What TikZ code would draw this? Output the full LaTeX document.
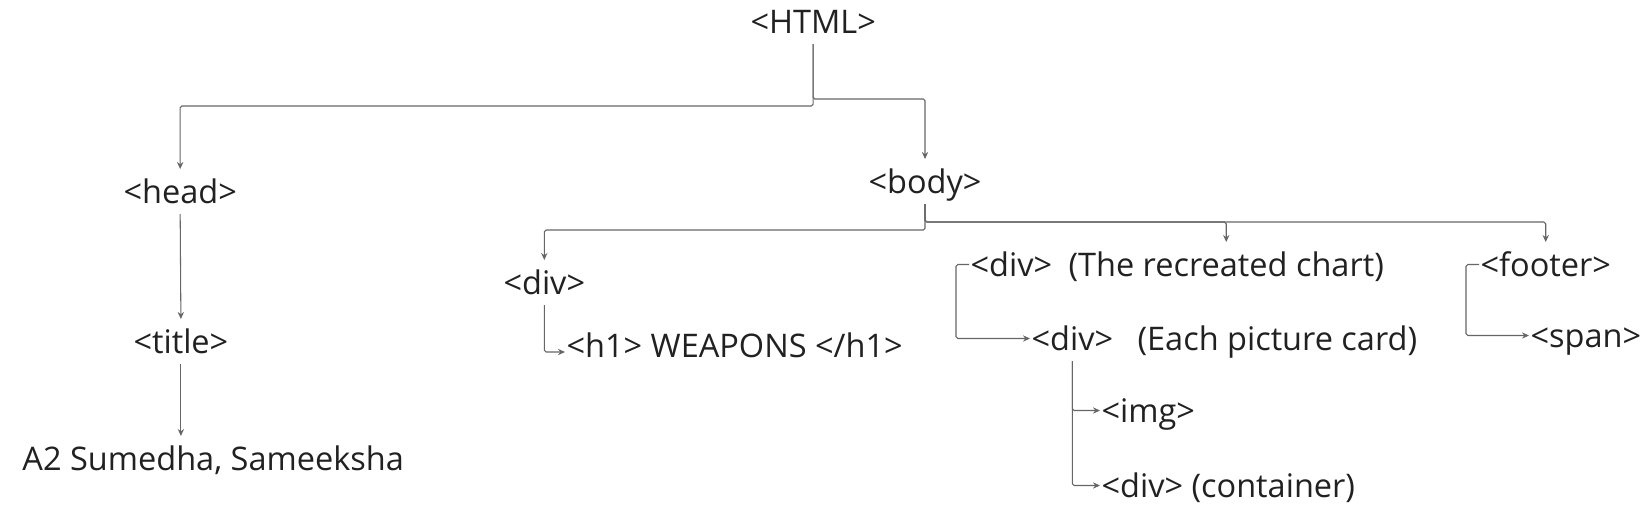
\documentclass[tikz,border=0pt]{standalone}
\usepackage{fontspec}
\setmainfont{Open Sans}
\usepackage{tikz}
\usepackage{xcolor}
\usetikzlibrary{arrows.meta}

\begin{document}
\begin{tikzpicture}[x=0.02cm,y=-0.02cm]
  \tikzset{vertex/.style = {anchor=base west,inner sep=0pt,text height=0.46cm,text depth=0pt,outer xsep=0.03cm,outer ysep=0.22cm,text=black!87,font=\fontsize{18.5}{22}\selectfont}}
  \tikzset{edge/.style = {-{Stealth[length=4pt,width=3.6pt]},draw=black!60,line width=0.6pt,rounded corners=1pt}}

	\useasboundingbox (0,0) rectangle (1648,521);

	\node[vertex] (0) at (749,33) {<HTML>};

	\node[vertex] (1) at (122,203) {<head>};

		\node[vertex] (2) at (132,353) {<title>};

			\node[vertex] (3) at (21,470) {A2 Sumedha, Sameeksha};

	\node[vertex] (4) at (867,193) {<body>};

		\node[vertex] (5) at (502,294) {<div>};

			\node[vertex] (6) at (565,357) {<h1> WEAPONS </h1>};

		\node[vertex] (7) at (969,276) {<div>};
		\node[vertex] (8) at (1067,276) {(The recreated chart)};

			\node[vertex] (9) at (1030,350) {<div>};
			\node[vertex] (10) at (1136,350) {(Each picture card)};

				\node[vertex] (11) at (1100,422) {<img>};

				\node[vertex] (12) at (1100,497) {<div> (container)};

		\node[vertex] (13) at (1479,276) {<footer>};

			\node[vertex] (14) at (1529,347) {<span>};

	\draw[edge] (0.south) -- ++(0,62) -| (1.north);
	\draw[edge] (0.south) -- ++(0,55) -| (4.north);
	\draw[edge] (1.south) -- (2.north);
	\draw[edge] (2.south) -- (2.south |- 3.north);

	\draw[edge] (4.south) -- ++(0,26) -| (5.north);
	\foreach \to in {8,13}
	\draw[edge] (4.south) -- ++(0,18) -| (\to.north);

	\draw[edge] (5.south) |- ([yshift=-3.7pt]6.west);
	\draw[edge] (7.west) -- ++(-13,0) |- (9.west);
	\foreach \to in {11,12}
	\draw[edge] (9.south) |- (\to.west);
	\draw[edge] (13.west) -- ++(-13,0) |- (14.west);

\end{tikzpicture}
\end{document}
